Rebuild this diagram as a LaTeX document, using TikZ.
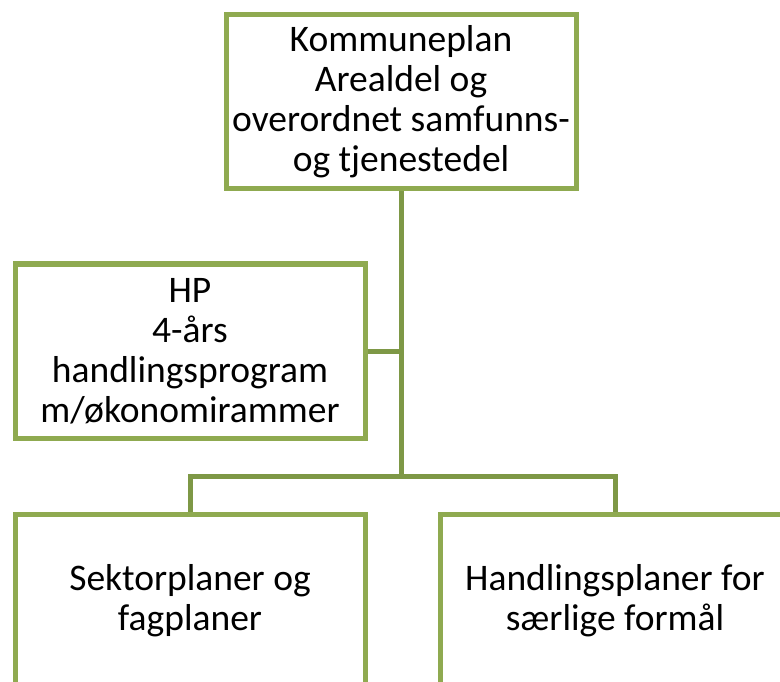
\documentclass[tikz,border=0pt]{standalone}
\usepackage{fontspec}
\setmainfont{Carlito}
\usetikzlibrary{positioning}
\definecolor{boxgreen}{HTML}{8FAA50}
\definecolor{linegreen}{HTML}{7E9846}
\begin{document}
\begin{tikzpicture}[x=1pt,y=-1pt]
  \tikzstyle{every node}=[font=\fontsize{37.5}{40}\selectfont]
  \tikzstyle{plan}=[draw=boxgreen,line width=5pt,fill=white,align=center,
                    inner sep=0pt,minimum width=350pt,minimum height=174pt]
  \tikzstyle{link}=[draw=linegreen,line width=5pt]
  \useasboundingbox (0,0) rectangle (780,682);

  \node[plan] (K) at (401,102) {Kommuneplan\\Arealdel og\\overordnet samfunns-\\og tjenestedel};
  \node[plan] (HP) at (190,351) {HP\\4-års\\handlingsprogram\\m/økonomirammer};
  \node[plan] (S) at (190,601) {Sektorplaner og\\fagplaner};
  \node[plan] (H) at (615,601) {Handlingsplaner for\\særlige formål};

  \coordinate (hpjoin) at (401,351);
  \coordinate (mid) at (401,476);

  \path[link] (K) -- (hpjoin) -- (mid)
              (HP) -- (hpjoin)
              (S) |- (mid) -| (H);
\end{tikzpicture}
\end{document}
